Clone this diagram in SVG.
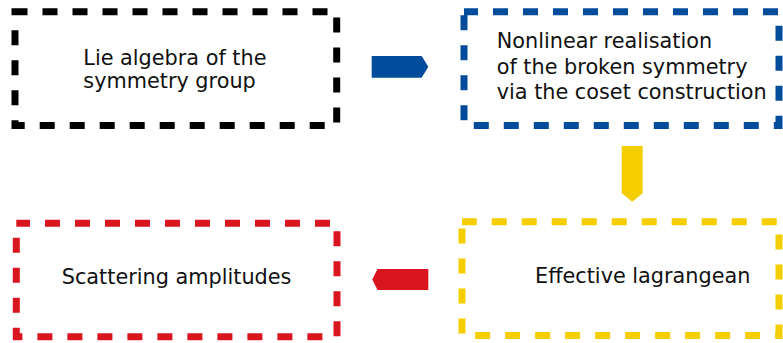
<svg xmlns="http://www.w3.org/2000/svg" width="783" height="343" viewBox="0 0 783 343">
<style>
.box{fill:none;stroke-width:7;stroke-dasharray:15 15;}
.lbl{font-family:"DejaVu Sans","Liberation Sans",sans-serif;font-size:20.8px;fill:#111;}
</style>
<rect width="783" height="343" fill="#fff"/>
<g id="node-lie">
<rect class="box" x="15" y="11.7" width="321.7" height="113.8" stroke="#000" stroke-dashoffset="2.5"/>
<text class="lbl" x="83.3" y="65">Lie algebra of the</text>
<text class="lbl" x="83.3" y="88">symmetry group</text>
</g>
<g id="node-nonlinear">
<rect class="box" x="464" y="11.7" width="315" height="113.8" stroke="#034C9C" stroke-dashoffset="1"/>
<text class="lbl" x="496.7" y="47.7">Nonlinear realisation</text>
<text class="lbl" x="496.7" y="73.5">of the broken symmetry</text>
<text class="lbl" x="496.7" y="99.3">via the coset construction</text>
</g>
<g id="node-effective">
<rect class="box" x="462" y="221.7" width="317" height="113.8" stroke="#F5CE00" stroke-dashoffset="0.3"/>
<text class="lbl" x="535" y="283.3">Effective lagrangean</text>
</g>
<g id="node-scattering">
<rect class="box" x="16.3" y="223.3" width="320.7" height="113.4" stroke="#D9161F" stroke-dashoffset="1.3"/>
<text class="lbl" x="61.7" y="284">Scattering amplitudes</text>
</g>
<g id="connectors">
<polygon points="371.7,56 421.7,56 428.3,66.8 421.7,77.7 371.7,77.7" fill="#034C9C"/>
<polygon points="621.7,146 642.7,146 642.7,193.3 632.2,201.7 621.7,193.3" fill="#F5CE00"/>
<polygon points="428.3,269 377.5,269 372.3,279.5 377.5,290 428.3,290" fill="#D9161F"/>
</g>
</svg>
